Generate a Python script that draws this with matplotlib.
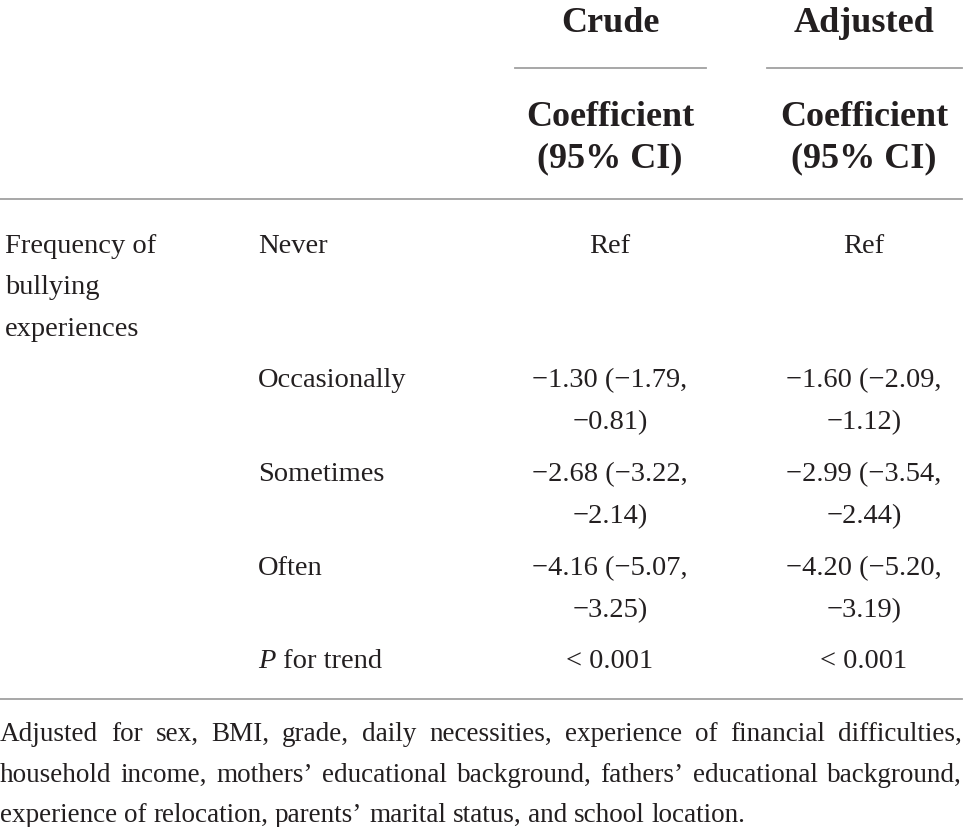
import matplotlib
matplotlib.use("Agg")
import matplotlib.pyplot as plt

# ---- data ----
group_label = ["Frequency of", "bullying", "experiences"]
categories = ["Never", "Occasionally", "Sometimes", "Often"]
model_names = ["Crude", "Adjusted"]
crude_coef = [None, -1.30, -2.68, -4.16]
crude_low = [None, -1.79, -3.22, -5.07]
crude_high = [None, -0.81, -2.14, -3.25]
adj_coef = [None, -1.60, -2.99, -4.20]
adj_low = [None, -2.09, -3.54, -5.20]
adj_high = [None, -1.12, -2.44, -3.19]
p_trend = ["< 0.001", "< 0.001"]
footnote = ("Adjusted for sex, BMI, grade, daily necessities, experience of financial difficulties, "
            "household income, mothers\u2019 educational background, fathers\u2019 educational background, "
            "experience of relocation, parents\u2019 marital status, and school location.")

FONT = "Liberation Serif"
TXT = "#231f20"
LINE = "#a0a0a0"
BODY = 20.5
HEAD = 26
FOOT = 19.5

W, H = 968, 827
fig = plt.figure(figsize=(W / 100, H / 100), dpi=100)
ax = fig.add_axes([0, 0, 1, 1])
ax.set_xlim(0, W)
ax.set_ylim(H, 0)
ax.axis("off")

def fmt(v):
    return f"{v:.2f}".replace("-", "\u2212")

def put(x, y, s, size=BODY, ha="left", **kw):
    return ax.text(x, y, s, fontsize=size, family=FONT, ha=ha, va="baseline", color=TXT, **kw)

col1_x, col2_x = 5, 258
col_c = [610, 864]

# header
for i, name in enumerate(model_names):
    put(col_c[i], 32, name, size=HEAD, ha="center", fontweight="bold")
    put(col_c[i], 126, "Coefficient", size=HEAD, ha="center", fontweight="bold")
    put(col_c[i], 167, "(95% CI)", size=HEAD, ha="center", fontweight="bold")
ax.plot([515, 706], [68, 68], color=LINE, lw=1.3)
ax.plot([767, 962], [68, 68], color=LINE, lw=1.3)
ax.plot([0, 962], [199, 199], color=LINE, lw=1.3)
ax.plot([0, 962], [699, 699], color=LINE, lw=1.3)

# group label
for j, t in enumerate(group_label):
    put(col1_x, 253 + j * 41.5, t)

row_y = [253, 387, 481, 575]
models = [(crude_coef, crude_low, crude_high), (adj_coef, adj_low, adj_high)]
for r, cat in enumerate(categories):
    y = row_y[r]
    put(col2_x, y, cat)
    for m, (c, lo, hi) in enumerate(models):
        if c[r] is None:
            put(col_c[m], y, "Ref", ha="center")
        else:
            put(col_c[m], y, f"{fmt(c[r])} ({fmt(lo[r])},", ha="center")
            put(col_c[m], y + 42, f"{fmt(hi[r])})", ha="center")

# P for trend
fig.canvas.draw()
renderer = fig.canvas.get_renderer()
yp = 668
tp = put(col2_x, yp, "P", style="italic")
bb = tp.get_window_extent(renderer)
put(col2_x + bb.width + 1, yp, " for trend")
for m in range(2):
    put(col_c[m], yp, p_trend[m], ha="center")

# footnote, justified
words = footnote.split(" ")
def width(s):
    t = ax.text(0, 0, s, fontsize=FOOT, family=FONT)
    w = t.get_window_extent(renderer).width
    t.remove()
    return w

space_w = width("a b") - width("ab")
maxw = 962
lines, cur = [], []
for w in words:
    trial = " ".join(cur + [w])
    if cur and width(trial) > maxw:
        lines.append(cur)
        cur = [w]
    else:
        cur.append(w)
lines.append(cur)

fy = [741, 782, 822]
for li, lw in enumerate(lines):
    y = fy[li] if li < len(fy) else fy[-1] + 41 * (li - 2)
    ws = [width(w) for w in lw]
    if li < len(lines) - 1 and len(lw) > 1:
        gap = (maxw - sum(ws)) / (len(lw) - 1)
    else:
        gap = space_w
    x = 0
    for w, wd in zip(lw, ws):
        put(x, y, w, size=FOOT)
        x += wd + gap

fig.savefig("out.png", dpi=100)
